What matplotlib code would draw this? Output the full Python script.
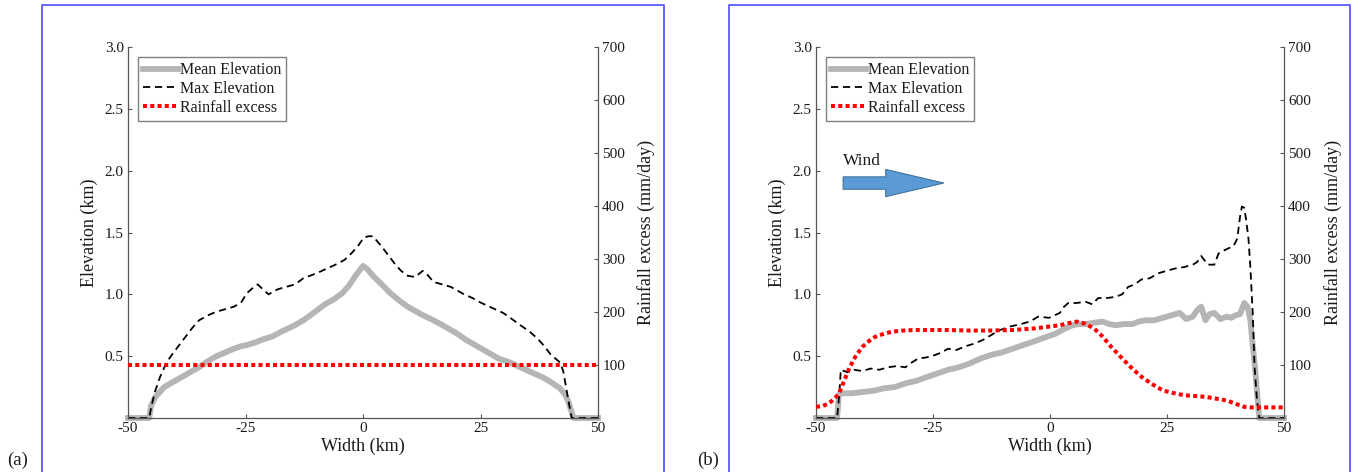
"""
Cross-section profiles of a mountain range: mean/max elevation and rainfall excess.
(a) symmetric case with uniform rainfall, (b) windward/leeward case.
"""
import matplotlib
matplotlib.use('Agg')
import matplotlib.pyplot as plt
from matplotlib.lines import Line2D
from matplotlib.patches import FancyArrow

plt.rcParams['font.family'] = ['Liberation Serif', 'DejaVu Serif']

# ---- data ----
X_TICKS = [-50, -25, 0, 25, 50]
ELEV_TICKS = [0.5, 1.0, 1.5, 2.0, 2.5, 3.0]
ELEV_TICK_LABELS = ['0.5', '1.0', '1.5', '2.0', '2.5', '3.0']
RAIN_TICKS = [100, 200, 300, 400, 500, 600, 700]
RAIN_TICK_LABELS = ['100', '200', '300', '400', '500', '600', '700']

# panel (a)
a_mean_x = [-50, -45.5, -45.1, -44.2, -42.3, -40.5, -38.6, -36.8, -34.9, -33, -31.2, -29.3,
            -27.5, -26, -24.7, -23, -21, -19.2, -17.3, -15, -12.7, -10.5, -8.1, -6.2, -4.4,
            -3, -1.6, 0, 1, 2.1, 4, 5.8, 7.7, 9.5, 12.3, 15, 17.4, 19.7, 22, 24.3, 26.6,
            28.9, 31.2, 33.5, 35.8, 38.2, 40, 41.9, 43, 43.7, 44.3, 44.8, 50]
a_mean_y = [0, 0, 0.1, 0.17, 0.25, 0.29, 0.33, 0.37, 0.41, 0.46, 0.50, 0.53,
            0.56, 0.58, 0.59, 0.61, 0.64, 0.66, 0.70, 0.74, 0.79, 0.85, 0.92, 0.96, 1.01,
            1.07, 1.15, 1.23, 1.20, 1.15, 1.08, 1.01, 0.95, 0.90, 0.84, 0.79, 0.74, 0.69, 0.63, 0.58, 0.53,
            0.48, 0.45, 0.41, 0.37, 0.33, 0.29, 0.24, 0.19, 0.13, 0.06, 0, 0]
a_max_x = [-50, -45.5, -45.0, -44.2, -43.2, -41.8, -40.5, -39.1, -37.7, -36.3, -34.9, -33,
           -31.2, -29.3, -27.5, -26, -24.7, -23.5, -22.4, -21.3, -20.1, -18.2, -16.4, -14.5,
           -12.7, -11.3, -9.9, -7.6, -5.3, -3.9, -2.5, -1.1, 0.2, 1.2, 2.1, 3, 3.9, 5.3,
           6.7, 8.1, 9.5, 11.1, 12.7, 13.9, 15, 16.9, 18.7, 20.1, 21.5, 23.3, 25.2, 27.5,
           29.8, 31.7, 33.5, 35.4, 37.2, 38.6, 40, 41.9, 42.6, 43.2, 43.8, 44.4, 50]
a_max_y = [0, 0, 0.1, 0.22, 0.33, 0.45, 0.52, 0.59, 0.66, 0.73, 0.79, 0.83,
           0.86, 0.88, 0.90, 0.93, 1.01, 1.05, 1.08, 1.04, 1.00, 1.04, 1.06, 1.08,
           1.13, 1.15, 1.17, 1.21, 1.25, 1.28, 1.33, 1.39, 1.46, 1.47, 1.47, 1.43, 1.39, 1.32,
           1.25, 1.19, 1.15, 1.14, 1.19, 1.15, 1.10, 1.08, 1.06, 1.03, 1.00, 0.97, 0.93, 0.89,
           0.85, 0.80, 0.75, 0.70, 0.64, 0.58, 0.51, 0.45, 0.38, 0.25, 0.12, 0, 0]
a_rain_x = [-50, 50]
a_rain_y = [100, 100]

# panel (b)
b_mean_x = [-50, -45.5, -45.1, -44.5, -42.3, -40.1, -37.8, -35.5, -33.2, -30.9, -28.6, -26.4,
            -24.1, -21.8, -19.5, -17.2, -14.9, -12.6, -10.3, -8.0, -5.7, -3.4, -1.2, 1.1, 3,
            4.8, 6.2, 7.6, 9.4, 11.2, 12.6, 14, 15.8, 17.6, 19, 20.4, 22.2, 24.1, 25.9, 27.7,
            29.1, 30.5, 31.4, 32.3, 33.2, 34.1, 35.1, 36.4, 37.8, 38.7, 39.6, 40.6, 41.5,
            42.2, 42.8, 43.8, 44.7, 50]
b_mean_y = [0, 0, 0.19, 0.20, 0.20, 0.21, 0.22, 0.24, 0.25, 0.28, 0.30, 0.33,
            0.36, 0.39, 0.41, 0.44, 0.48, 0.51, 0.53, 0.56, 0.59, 0.62, 0.65, 0.68, 0.72,
            0.75, 0.76, 0.76, 0.77, 0.78, 0.76, 0.75, 0.76, 0.76, 0.78, 0.79, 0.79, 0.81, 0.83, 0.85,
            0.80, 0.82, 0.87, 0.90, 0.79, 0.84, 0.85, 0.80, 0.82, 0.81, 0.83, 0.84, 0.93,
            0.90, 0.79, 0.40, 0, 0]
b_max_x = [-50, -45.5, -45.0, -44.7, -43.3, -41.9, -40.1, -38.3, -36.5, -34.6, -32.8, -30.9,
           -29.5, -28.2, -26.4, -24.5, -23.2, -21.8, -20, -18.1, -16.3, -14.4, -12.6, -10.8,
           -8.5, -6.2, -4.3, -2.5, -0.2, 2.1, 3, 3.9, 5.7, 7.6, 9, 10.3, 12.2, 14, 15.4,
           16.7, 18.1, 19.5, 21.3, 23.1, 24.9, 26.8, 28.6, 30.5, 31.4, 32.3, 33.7, 35.1,
           36, 36.9, 38, 39.2, 40, 40.6, 41, 41.5, 41.9, 42.4, 42.8, 43.3, 43.7, 44.2, 44.7, 50]
b_max_y = [0, 0, 0.2, 0.39, 0.37, 0.39, 0.38, 0.40, 0.39, 0.41, 0.42, 0.41,
           0.45, 0.48, 0.49, 0.51, 0.53, 0.56, 0.55, 0.58, 0.60, 0.63, 0.67, 0.71,
           0.74, 0.76, 0.78, 0.82, 0.81, 0.85, 0.90, 0.93, 0.93, 0.94, 0.92, 0.97, 0.97, 0.98, 1.00,
           1.06, 1.08, 1.12, 1.13, 1.17, 1.19, 1.21, 1.22, 1.24, 1.26, 1.31, 1.24, 1.24,
           1.33, 1.35, 1.37, 1.39, 1.45, 1.63, 1.71, 1.70, 1.60, 1.45, 1.22, 0.85, 0.41, 0.15, 0, 0]
b_rain_x = [-50, -48.5, -47.4, -46.2, -45.1, -44, -42.9, -41.5, -40.1, -38.7, -37.4, -35.5,
            -33.7, -31.4, -29.1, -25.5, -21.8, -17.2, -12.6, -8, -3.4, -0.6, 2.1, 4, 5.7,
            7.5, 9.4, 11.2, 13.1, 14.5, 15.8, 17.6, 19.5, 21.8, 24.1, 26.4, 28.6, 33.2, 37.8,
            39.6, 41.5, 43, 50]
b_rain_y = [21, 23, 27, 35, 46, 70, 94, 117, 134, 145, 153, 159,
            163, 165, 166, 166, 166, 165, 165, 166, 169, 172, 175, 179, 182,
            178, 169, 154, 134, 121, 109, 93, 78, 64, 52, 47, 43, 40, 33,
            27, 21, 20, 20]

# ---- styles ----
MEAN_STYLE = dict(color='#b5b5b5', lw=4.2, solid_joinstyle='round', clip_on=False)
MAX_STYLE = dict(color='black', lw=1.3, linestyle=(0, (4, 2.6)))
RAIN_STYLE = dict(color='#ff0000', lw=2.9, linestyle=(0, (1, 0.8)), dash_capstyle='butt')
SPINE_COLOR = '#555555'
TEXT_COLOR = '#1a1a1a'
BOX_COLOR = '#5a5aff'


def style_axes(ax, ax2):
    ax.set_xlim(-50, 50)
    ax.set_ylim(0, 3)
    ax2.set_ylim(0, 700)
    ax.set_xticks(X_TICKS)
    ax.set_xticklabels([str(t) for t in X_TICKS])
    ax.set_yticks(ELEV_TICKS)
    ax.set_yticklabels(ELEV_TICK_LABELS)
    ax2.set_yticks(RAIN_TICKS)
    ax2.set_yticklabels(RAIN_TICK_LABELS)

    for a in (ax, ax2):
        a.spines['top'].set_visible(False)
        for sp in a.spines.values():
            sp.set_color(SPINE_COLOR)
            sp.set_linewidth(0.9)
        a.tick_params(direction='in', length=3, width=0.8, color=SPINE_COLOR,
                      labelsize=11, labelcolor=TEXT_COLOR, pad=3)
    ax.spines['right'].set_visible(False)
    ax2.spines['left'].set_visible(False)
    ax2.spines['bottom'].set_visible(False)

    ax.set_xlabel('Width (km)', fontsize=13, color=TEXT_COLOR, labelpad=2)
    ax.set_ylabel('Elevation (km)', fontsize=13, color=TEXT_COLOR, labelpad=5)
    ax2.set_ylabel('Rainfall excess (mm/day)', fontsize=13, color=TEXT_COLOR, labelpad=9)


def draw_panel(fig, rect, mean, maxe, rain):
    ax = fig.add_axes(rect)
    ax2 = ax.twinx()
    ax.plot(mean[0], mean[1], **MEAN_STYLE)
    ax.plot(maxe[0], maxe[1], **MAX_STYLE)
    ax2.plot(rain[0], rain[1], **RAIN_STYLE)
    style_axes(ax, ax2)

    handles = [Line2D([], [], **{k: v for k, v in MEAN_STYLE.items() if k != 'clip_on'}),
               Line2D([], [], **MAX_STYLE),
               Line2D([], [], **RAIN_STYLE)]
    leg = ax2.legend(handles, ['Mean Elevation', 'Max Elevation', 'Rainfall excess'],
                     loc='upper left', borderaxespad=0.65, fancybox=False, framealpha=1,
                     edgecolor='#808080', handlelength=2.2, handletextpad=0.1,
                     labelspacing=0.18, borderpad=0.3, fontsize=11.5)
    leg.get_frame().set_linewidth(1.0)
    for t in leg.get_texts():
        t.set_color(TEXT_COLOR)
    return ax, ax2


def draw_box(fig, x0, x1, top):
    fig.add_artist(Line2D([x0, x0, x1, x1], [0, top, top, 0], color=BOX_COLOR,
                          lw=1.3, transform=fig.transFigure))


def main():
    fig = plt.figure(figsize=(13.65, 4.72), dpi=100)

    draw_box(fig, 0.0308, 0.4864, 0.9894)
    draw_box(fig, 0.5341, 0.9890, 0.9894)

    draw_panel(fig, [0.0938, 0.1144, 0.3443, 0.786],
               (a_mean_x, a_mean_y), (a_max_x, a_max_y), (a_rain_x, a_rain_y))
    ax_b, _ = draw_panel(fig, [0.5978, 0.1144, 0.3429, 0.786],
                         (b_mean_x, b_mean_y), (b_max_x, b_max_y), (b_rain_x, b_rain_y))

    # wind arrow in panel (b)
    ax_b.add_patch(FancyArrow(-44.2, 1.9, 21.5, 0, width=0.1, head_width=0.22,
                              head_length=12.4, length_includes_head=True,
                              facecolor='#5b9bd5', edgecolor='#41719c', lw=0.8, zorder=5))
    ax_b.text(-44.2, 2.01, 'Wind', fontsize=12.5, color=TEXT_COLOR, ha='left', va='bottom')

    fig.text(0.005, 0.025, '(a)', fontsize=13.5, color=TEXT_COLOR, ha='left', va='center')
    fig.text(0.5105, 0.025, '(b)', fontsize=13.5, color=TEXT_COLOR, ha='left', va='center')

    fig.savefig('out.png', dpi=100)
    plt.close(fig)


if __name__ == '__main__':
    main()
